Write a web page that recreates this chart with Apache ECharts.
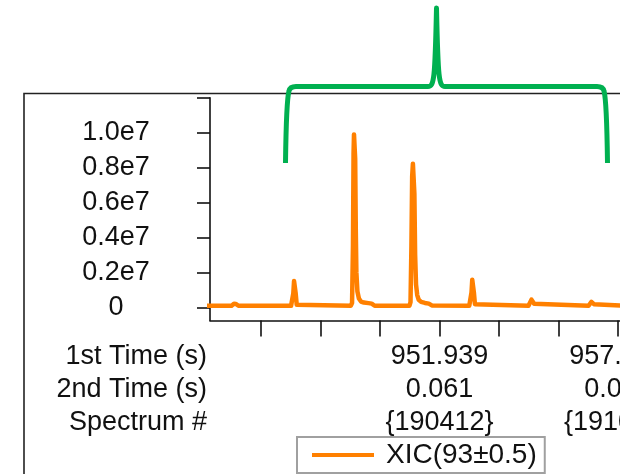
<!DOCTYPE html>
<html>
<head>
<meta charset="utf-8">
<script src="https://cdn.jsdelivr.net/npm/echarts@6/dist/echarts.min.js"></script>
<style>
html,body{margin:0;padding:0;background:#fff;}
#chart{width:620px;height:474px;}
</style>
</head>
<body>
<div id="chart"></div>
<script>
// ---- data ----
var times = [
  944.10, 944.95, 945.03, 945.065, 945.10, 945.18,
  946.95, 946.99, 947.025, 947.05, 947.065, 947.08, 947.105, 947.14, 947.18,
  948.96, 949.00, 949.03, 949.05, 949.065, 949.09, 949.105, 949.125, 949.145, 949.18, 949.23, 949.30, 949.40, 949.55, 949.66, 949.72, 949.76,
  950.93, 950.965, 950.995, 951.02, 951.045, 951.07, 951.095, 951.12, 951.15, 951.19, 951.24, 951.32, 951.45, 951.58, 951.68, 951.72,
  952.94, 952.98, 953.015, 953.04, 953.055, 953.07, 953.095, 953.13, 953.18,
  954.93, 954.98, 955.03, 955.05, 955.07, 955.12, 955.17,
  956.95, 957.00, 957.045, 957.065, 957.085, 957.13, 957.18,
  958.20
];
var intensity = [
  90000, 90000, 200000, 220000, 190000, 90000,
  90000, 150000, 800000, 1500000, 1600000, 1500000, 800000, 150000, 90000,
  90000, 250000, 3500000, 8800000, 9900000, 9900000, 8500000, 4500000, 2000000, 900000, 500000, 330000, 270000, 240000, 210000, 100000, 90000,
  90000, 300000, 3500000, 7500000, 8220000, 8200000, 6500000, 3000000, 1300000, 700000, 430000, 310000, 250000, 210000, 110000, 90000,
  90000, 160000, 850000, 1580000, 1680000, 1580000, 850000, 180000, 95000,
  90000, 200000, 440000, 480000, 440000, 200000, 90000,
  90000, 180000, 310000, 330000, 310000, 180000, 90000,
  90000
];
var seriesName = 'XIC(93\u00b10.5)';

// x-axis ticks (1st time, s) and the labelled positions
var xTicks = [945.939, 947.939, 949.939, 951.939, 953.939, 955.939, 957.939];
var xLabelTimes = [951.939, 957.939];
var firstTimeLabels = ['951.939', '957.939'];
var secondTimeLabels = ['0.061', '0.061'];
var spectrumLabels = ['{190412}', '{191012}'];
var rowHeaders = ['1st Time (s)', '2nd Time (s)', 'Spectrum #'];

// y-axis ticks and labels
var yTicks = [0, 2000000, 4000000, 6000000, 8000000, 10000000, 12000000];
var yLabelValues = [0, 2000000, 4000000, 6000000, 8000000, 10000000];
var yLabelTexts = ['0', '0.2e7', '0.4e7', '0.6e7', '0.8e7', '1.0e7'];

// ---- chart ----
var seriesData = times.map(function (t, i) { return [t, intensity[i]]; });
var FONT = '"Liberation Sans", Arial, sans-serif';
var chart = echarts.init(document.getElementById('chart'), null, {renderer: 'canvas'});

var bracketPath = 'M285.5 163 C286 125 287 98 289 91 Q290 86.5 296 86.5 L428 86.5 C434 86.5 435 80 436.5 8 C438 80 439 86.5 445 86.5 L597 86.5 Q603 86.5 604 91 C606 98 607 125 607.5 163';

chart.setOption({
  animation: false,
  backgroundColor: '#ffffff',
  grid: {left: 210, right: 0, top: 97.7, bottom: 153.5, containLabel: false, outerBoundsMode: 'none'},
  xAxis: {
    type: 'value',
    min: 944.225,
    max: 958.006,
    axisLine: {show: true, onZero: false, lineStyle: {color: '#111', width: 1.6}},
    axisTick: {show: true, customValues: xTicks, length: 16, lineStyle: {color: '#111', width: 1.6}},
    axisLabel: {
      show: true,
      customValues: xLabelTimes,
      margin: 20,
      fontFamily: FONT,
      fontSize: 27,
      lineHeight: 33,
      color: '#111',
      verticalAlign: 'top',
      formatter: function (v) {
        var i = -1;
        for (var k = 0; k < xLabelTimes.length; k++) { if (Math.abs(xLabelTimes[k] - v) < 1e-6) i = k; }
        if (i < 0) return '';
        return firstTimeLabels[i] + '\n' + secondTimeLabels[i] + '\n' + spectrumLabels[i];
      }
    },
    splitLine: {show: false}
  },
  yAxis: {
    type: 'value',
    min: -755000,
    max: 12000000,
    axisLine: {show: true, lineStyle: {color: '#111', width: 1.6}},
    axisTick: {show: true, customValues: yTicks, length: 13, lineStyle: {color: '#111', width: 1.6}},
    axisLabel: {
      show: true,
      customValues: yLabelValues,
      margin: 94,
      align: 'center',
      fontFamily: FONT,
      fontSize: 27,
      color: '#111',
      formatter: function (v) {
        for (var k = 0; k < yLabelValues.length; k++) { if (Math.abs(yLabelValues[k] - v) < 1) return yLabelTexts[k]; }
        return '';
      }
    },
    splitLine: {show: false}
  },
  legend: {
    show: true,
    data: [seriesName],
    left: 297,
    top: 437,
    orient: 'horizontal',
    icon: 'rect',
    itemWidth: 62,
    itemHeight: 4,
    padding: [3, 8, 3, 15],
    borderColor: '#a0a0a0',
    borderWidth: 2,
    backgroundColor: '#ffffff',
    textStyle: {fontFamily: FONT, fontSize: 28, color: '#111', lineHeight: 30, padding: [0, 0, 0, 7]}
  },
  series: [{
    type: 'line',
    name: seriesName,
    data: seriesData,
    symbol: 'none',
    smooth: false,
    lineStyle: {color: '#ff8000', width: 4.5, join: 'round', cap: 'round'},
    itemStyle: {color: '#ff8000'},
    clip: true,
    z: 3
  }, {
    type: 'custom',
    name: 'bracket',
    coordinateSystem: 'none',
    silent: true,
    z: 10,
    data: [[0]],
    renderItem: function () {
      return {
        type: 'path',
        shape: {pathData: bracketPath},
        style: {stroke: '#00b050', lineWidth: 5, fill: null, lineCap: 'butt', lineJoin: 'round'}
      };
    }
  }],
  graphic: [
    {
      type: 'polyline',
      silent: true,
      z: 0,
      shape: {points: [[24, 480], [24, 93.5], [630, 93.5]]},
      style: {stroke: '#222', lineWidth: 1.6, fill: null}
    },
    {
      type: 'text', silent: true, z: 5,
      style: {text: rowHeaders[0], x: 207, y: 357, textAlign: 'right', textVerticalAlign: 'middle', font: '27px ' + FONT, fill: '#111'}
    },
    {
      type: 'text', silent: true, z: 5,
      style: {text: rowHeaders[1], x: 207, y: 390, textAlign: 'right', textVerticalAlign: 'middle', font: '27px ' + FONT, fill: '#111'}
    },
    {
      type: 'text', silent: true, z: 5,
      style: {text: rowHeaders[2], x: 207, y: 423, textAlign: 'right', textVerticalAlign: 'middle', font: '27px ' + FONT, fill: '#111'}
    }
  ]
});
</script>
</body>
</html>
